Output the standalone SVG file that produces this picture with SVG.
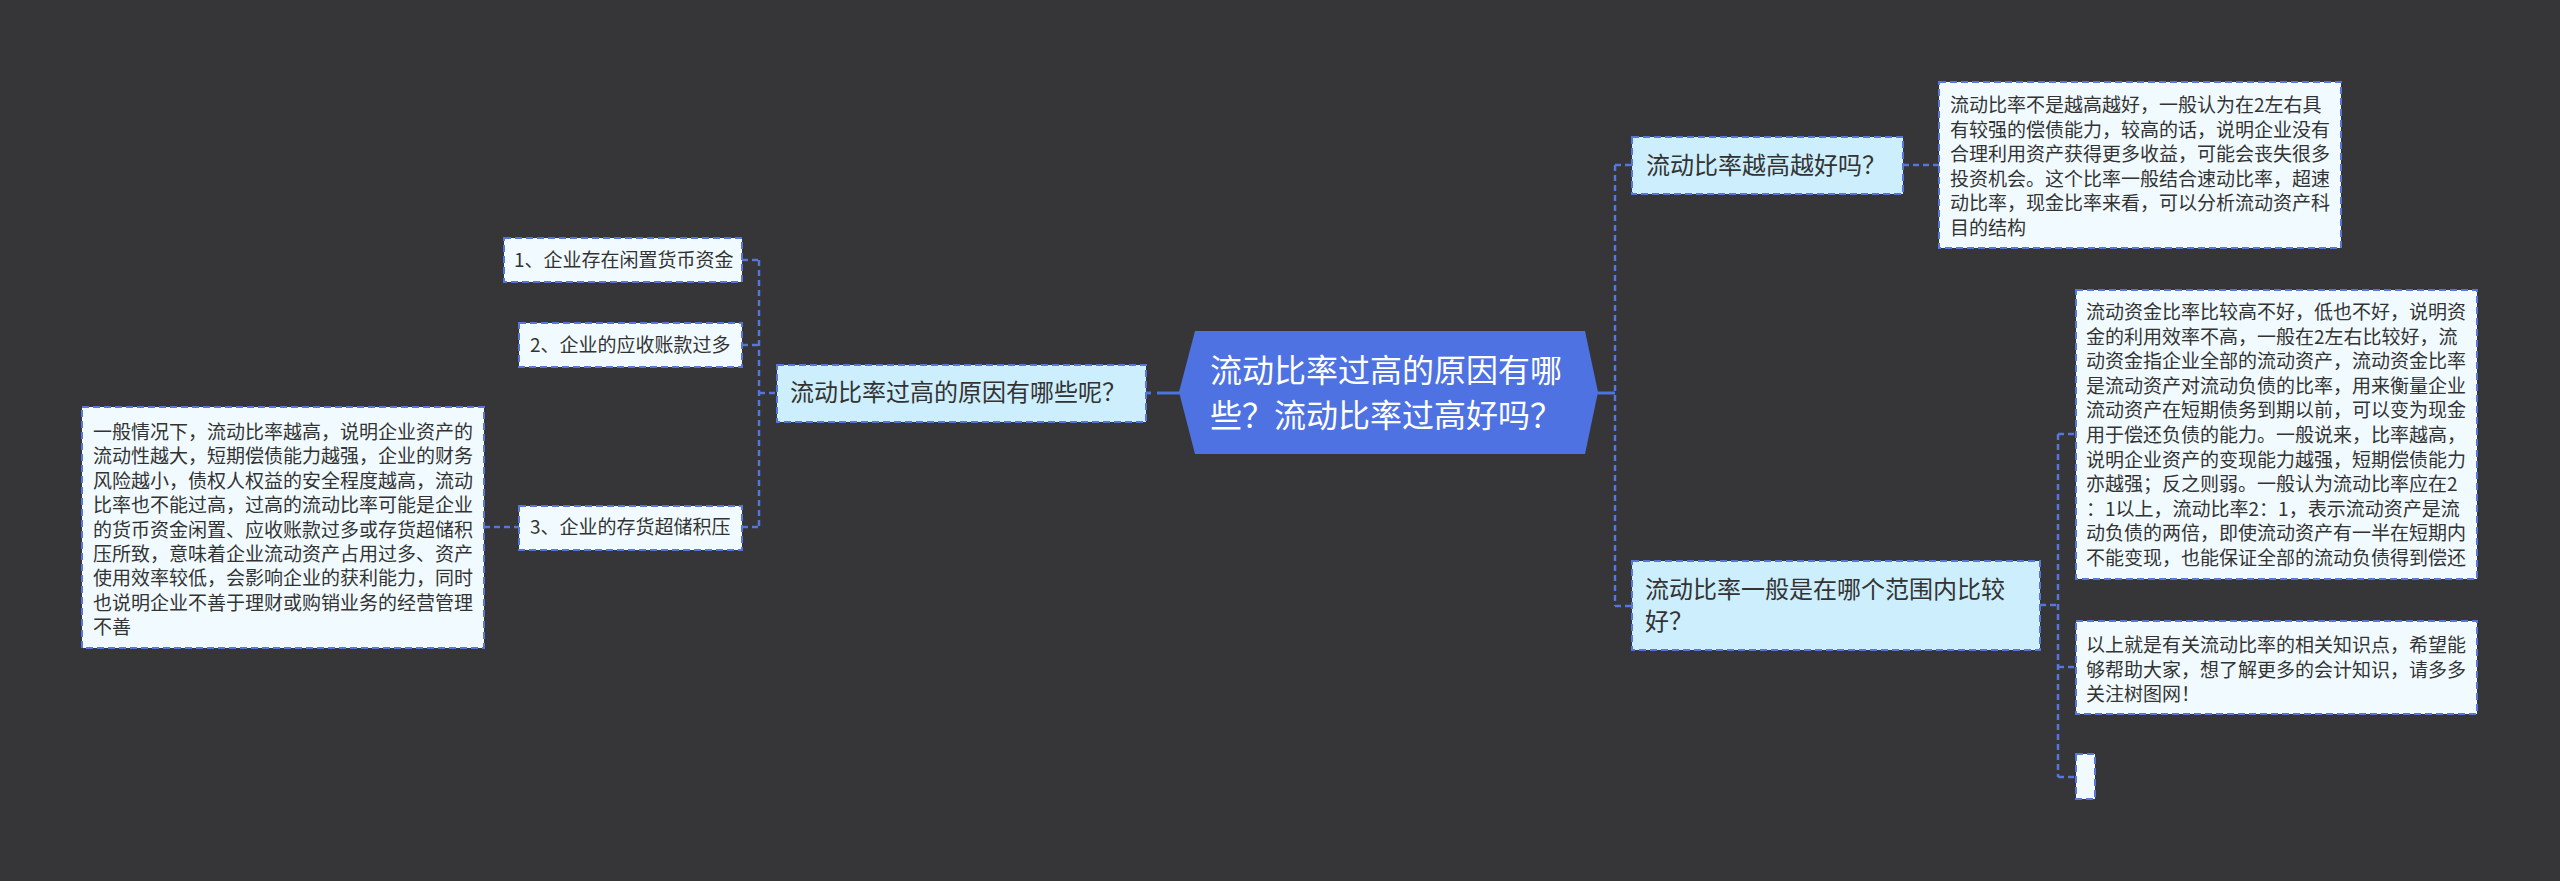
<svg xmlns="http://www.w3.org/2000/svg" width="2560" height="881" viewBox="0 0 2560 881">
<style>
.bg{fill:#363537}
.conn{fill:none;stroke:#5676dc;stroke-width:2.5;stroke-dasharray:6 4}
.solid{fill:none;stroke:#4f72e2;stroke-width:3}
.branch{fill:#cdeefc;stroke:#5676dc;stroke-width:2;stroke-dasharray:7 4}
.leaf{fill:#f1fbff;stroke:#5676dc;stroke-width:2;stroke-dasharray:7 4}
.root{fill:#4f72e2}
.rt{font-family:"Noto Sans CJK SC","Noto Sans",sans-serif;font-size:32px;fill:#ffffff}
.bt{font-family:"Noto Sans CJK SC","Noto Sans",sans-serif;font-size:24px;fill:#333333}
.lt{font-family:"Noto Sans CJK SC","Noto Sans",sans-serif;font-size:19px;fill:#333333}
</style>
<rect class="bg" x="0" y="0" width="2560" height="881"/>
<g id="connectors">
<line class="solid" x1="1597" y1="393" x2="1615" y2="393"/>
<line class="solid" x1="1157" y1="393" x2="1180" y2="393"/>
<line class="solid" x1="1146" y1="393" x2="1151" y2="393"/>
<path class="conn" d="M1615 165 V606 M1615 165 H1632 M1615 606 H1632"/>
<path class="conn" d="M1903 165 H1939"/>
<path class="conn" d="M2058 434 V777 M2040 605 H2058 M2058 434 H2076 M2058 667 H2076 M2058 777 H2076"/>
<path class="conn" d="M759 260 V527 M742 260 H759 M742 345 H759 M742 527 H759 M759 393 H777"/>
<path class="conn" d="M484 527 H519"/>
</g>
<g id="root">
<polygon class="root" points="1179,392 1195,331 1585,331 1598,392 1585,454 1195,454"/>
<text class="rt" x="1210" y="382">流动比率过高的原因有哪</text>
<text class="rt" x="1210" y="427">些？流动比率过高好吗？</text>
</g>
<g id="b-left">
<rect class="branch" x="777" y="365" width="369" height="57"/>
<text class="bt" x="790" y="401">流动比率过高的原因有哪些呢？</text>
</g>
<g id="item1">
<rect class="leaf" x="504" y="238" width="238" height="44"/>
<text class="lt" x="514" y="267">1、企业存在闲置货币资金</text>
</g>
<g id="item2">
<rect class="leaf" x="519" y="323" width="223" height="44"/>
<text class="lt" x="530" y="352">2、企业的应收账款过多</text>
</g>
<g id="item3">
<rect class="leaf" x="519" y="506" width="223" height="44"/>
<text class="lt" x="530" y="534">3、企业的存货超储积压</text>
</g>
<g id="detail-left">
<rect class="leaf" x="82" y="407" width="402" height="241"/>
<text class="lt" x="93" y="439">一般情况下，流动比率越高，说明企业资产的</text>
<text class="lt" x="93" y="463.4">流动性越大，短期偿债能力越强，企业的财务</text>
<text class="lt" x="93" y="487.8">风险越小，债权人权益的安全程度越高，流动</text>
<text class="lt" x="93" y="512.2">比率也不能过高，过高的流动比率可能是企业</text>
<text class="lt" x="93" y="536.6">的货币资金闲置、应收账款过多或存货超储积</text>
<text class="lt" x="93" y="561">压所致，意味着企业流动资产占用过多、资产</text>
<text class="lt" x="93" y="585.4">使用效率较低，会影响企业的获利能力，同时</text>
<text class="lt" x="93" y="609.8">也说明企业不善于理财或购销业务的经营管理</text>
<text class="lt" x="93" y="634.2">不善</text>
</g>
<g id="b-right1">
<rect class="branch" x="1632" y="137" width="271" height="57"/>
<text class="bt" x="1646" y="174">流动比率越高越好吗？</text>
</g>
<g id="detail-r1">
<rect class="leaf" x="1939" y="82" width="402" height="166"/>
<text class="lt" x="1950" y="112">流动比率不是越高越好，一般认为在2左右具</text>
<text class="lt" x="1950" y="136.5">有较强的偿债能力，较高的话，说明企业没有</text>
<text class="lt" x="1950" y="161">合理利用资产获得更多收益，可能会丧失很多</text>
<text class="lt" x="1950" y="185.5">投资机会。这个比率一般结合速动比率，超速</text>
<text class="lt" x="1950" y="210">动比率，现金比率来看，可以分析流动资产科</text>
<text class="lt" x="1950" y="234.5">目的结构</text>
</g>
<g id="b-right2">
<rect class="branch" x="1632" y="561" width="408" height="89"/>
<text class="bt" x="1645" y="598">流动比率一般是在哪个范围内比较</text>
<text class="bt" x="1645" y="630">好？</text>
</g>
<g id="detail-r2">
<rect class="leaf" x="2076" y="290" width="401" height="289"/>
<text class="lt" x="2086" y="319">流动资金比率比较高不好，低也不好，说明资</text>
<text class="lt" x="2086" y="343.6">金的利用效率不高，一般在2左右比较好，流</text>
<text class="lt" x="2086" y="368.2">动资金指企业全部的流动资产，流动资金比率</text>
<text class="lt" x="2086" y="392.8">是流动资产对流动负债的比率，用来衡量企业</text>
<text class="lt" x="2086" y="417.4">流动资产在短期债务到期以前，可以变为现金</text>
<text class="lt" x="2086" y="442">用于偿还负债的能力。一般说来，比率越高，</text>
<text class="lt" x="2086" y="466.6">说明企业资产的变现能力越强，短期偿债能力</text>
<text class="lt" x="2086" y="491.2">亦越强；反之则弱。一般认为流动比率应在2</text>
<text class="lt" x="2086" y="515.8">：1以上，流动比率2：1，表示流动资产是流</text>
<text class="lt" x="2086" y="540.4">动负债的两倍，即使流动资产有一半在短期内</text>
<text class="lt" x="2086" y="565">不能变现，也能保证全部的流动负债得到偿还</text>
</g>
<g id="detail-r3">
<rect class="leaf" x="2076" y="621" width="401" height="93"/>
<text class="lt" x="2086" y="652">以上就是有关流动比率的相关知识点，希望能</text>
<text class="lt" x="2086" y="676.5">够帮助大家，想了解更多的会计知识，请多多</text>
<text class="lt" x="2086" y="701">关注树图网！</text>
</g>
<g id="detail-r4">
<rect class="leaf" x="2076" y="754" width="19" height="45"/>
</g>
</svg>
